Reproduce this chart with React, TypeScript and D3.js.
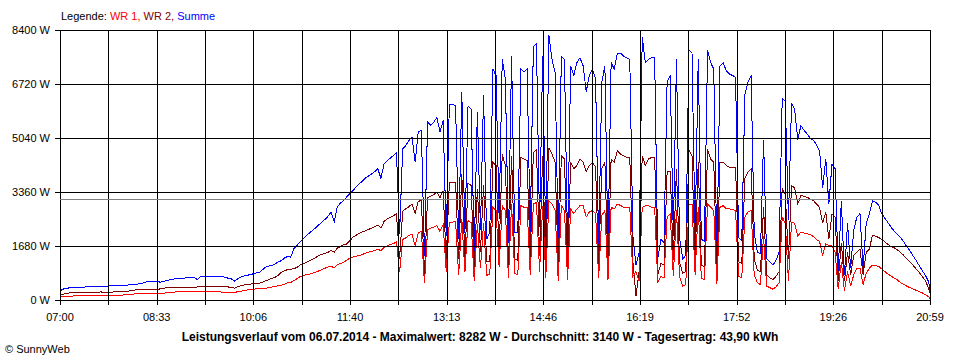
import React from 'react';
import * as d3 from 'd3';

// Leistungsverlauf 06.07.2014, Werte in W, ein Messwert alle 3 Minuten ab 07:00
const wr1 = [
  125, 125, 130, 135, 140, 145, 150, 150, 155, 155,
  155, 155, 155, 155, 155, 160, 160, 160, 160, 165,
  170, 175, 185, 195, 205, 205, 205, 205, 205, 205,
  205, 205, 215, 225, 240, 260, 262, 265, 270, 275,
  278, 280, 280, 280, 280, 280, 280, 280, 280, 280,
  280, 275, 260, 245, 240, 240, 240, 280, 290, 310,
  330, 340, 350, 365, 375, 385, 385, 400, 420, 435,
  460, 480, 500, 550, 560, 620, 675, 740, 780, 800,
  820, 850, 880, 920, 960, 1005, 1040, 1060, 1020, 1110,
  1150, 1190, 1250, 1320, 1350, 1380, 1400, 1430, 1470, 1500,
  1530, 1555, 1590, 1555, 1650, 1700, 1740, 1770, 1820, 880,
  1900, 1950, 2020, 2060, 1700, 2100, 2150, 530, 2200, 2250,
  2280, 2330, 2150, 2350, 900, 2440, 2440, 2460, 780, 2540,
  880, 2480, 2420, 600, 2390, 1000, 2400, 780, 830, 2900,
  2800, 1050, 2950, 2800, 700, 3000, 850, 800, 2950, 2900,
  2900, 800, 3000, 3050, 900, 2950, 700, 3100, 3000, 2800,
  600, 2960, 2800, 650, 2850, 2700, 2850, 2950, 2950, 2600,
  2750, 2800, 2700, 700, 2650, 2800, 650, 2900, 2850, 3000,
  2960, 2900, 2900, 2900, 750, 900, 600, 2900, 2950, 2950,
  2900, 2900, 550, 750, 700, 2600, 2700, 750, 2800, 750,
  450, 500, 3000, 3000, 800, 2900, 700, 650, 3000, 2900,
  2800, 500, 2900, 2950, 2850, 2850, 2830, 2800, 750, 700,
  2600, 2750, 2800, 800, 550, 500, 2000, 450, 400, 350,
  420, 550, 2600, 2400, 600, 2440, 2400, 2000, 2130, 2100,
  2080, 2050, 1990, 1900, 1840, 1400, 1770, 1700, 1700, 1500,
  350, 1200, 300, 900, 450, 800, 1000, 1000, 500, 850,
  1000, 1100, 1090, 1060, 980, 900, 820, 760, 700, 640,
  560, 500, 450, 400, 360, 320, 280, 240, 180, 120, 50,
];

const wr2 = [
  190, 200, 215, 240, 245, 250, 255, 260, 260, 260,
  260, 260, 262, 265, 260, 260, 260, 265, 270, 275,
  280, 285, 295, 310, 330, 340, 340, 340, 340, 340,
  340, 345, 360, 380, 395, 400, 405, 405, 405, 405,
  405, 405, 405, 410, 420, 435, 445, 445, 445, 445,
  445, 440, 435, 435, 420, 395, 385, 430, 460, 480,
  500, 510, 520, 535, 540, 570, 620, 650, 690, 725,
  780, 880, 920, 965, 975, 985, 1030, 1100, 1140, 1180,
  1240, 1280, 1330, 1400, 1430, 1470, 1500, 1560, 1500, 1630,
  1680, 1730, 1760, 1860, 1970, 2030, 2090, 2130, 2170, 2210,
  2250, 2300, 2350, 2250, 2460, 2540, 2590, 2640, 2700, 1300,
  2780, 2850, 2920, 3000, 2700, 3080, 3120, 840, 3200, 3250,
  3300, 3370, 3200, 3420, 1300, 3680, 3680, 3680, 1300, 3940,
  1300, 3650, 3580, 900, 3480, 1500, 3600, 1200, 1200, 4300,
  4200, 1500, 4550, 4200, 1100, 4500, 1300, 1250, 4450, 4400,
  4350, 1300, 4600, 4700, 1400, 4500, 1100, 4750, 4560, 4300,
  1100, 4500, 4400, 1050, 4300, 4100, 4200, 4400, 4300, 4000,
  4200, 4300, 4150, 1100, 4100, 4300, 1000, 4400, 4300, 4650,
  4560, 4500, 4450, 4450, 1200, 150, 900, 4500, 4200, 4400,
  4450, 4450, 800, 1150, 1100, 4000, 4000, 1250, 4100, 1200,
  850, 900, 4700, 4500, 1250, 4300, 1100, 1050, 4700, 4400,
  4300, 900, 4300, 4300, 4200, 4150, 4150, 4150, 1200, 1150,
  3800, 4000, 4100, 1300, 950, 900, 2900, 800, 700, 650,
  750, 900, 3500, 3300, 1300, 3580, 3500, 3000, 3270, 3240,
  3210, 3160, 3110, 3000, 2900, 2400, 2750, 1900, 2700, 2600,
  600, 1800, 600, 1500, 800, 1400, 1500, 1600, 800, 1500,
  1600, 2030, 2000, 1960, 1900, 1830, 1740, 1680, 1640, 1580,
  1500, 1410, 1300, 1210, 1100, 990, 880, 750, 620, 400, 200,
];

const summe = [
  310, 360, 380, 395, 405, 410, 415, 420, 420, 425,
  430, 435, 440, 445, 445, 450, 455, 460, 460, 465,
  470, 475, 485, 495, 505, 515, 520, 560, 600, 600,
  600, 600, 570, 590, 620, 640, 665, 675, 690, 700,
  700, 705, 710, 715, 650, 740, 745, 740, 735, 740,
  745, 745, 745, 720, 690, 670, 600, 680, 730, 760,
  780, 810, 830, 860, 880, 960, 1040, 1070, 1090, 1140,
  1200, 1240, 1320, 1370, 1350, 1610, 1710, 1820, 1920, 2020,
  2100, 2180, 2260, 2350, 2440, 2520, 2620, 2750, 2450, 2920,
  3030, 3110, 3220, 3320, 3420, 3530, 3630, 3710, 3810, 3870,
  3940, 4010, 4100, 3800, 4250, 4350, 4430, 4510, 4600, 2080,
  4720, 4820, 4980, 5080, 4300, 5240, 5290, 1400, 5550, 5450,
  5550, 5700, 5240, 5600, 2000, 6100, 6100, 6070, 1900, 6480,
  2100, 6050, 5960, 1500, 5860, 2200, 6380, 1900, 2130, 7200,
  7000, 2540, 7500, 6900, 1800, 7600, 2130, 2100, 7200, 7100,
  7200, 2100, 7900, 8000, 2300, 7600, 1800, 8250, 7500, 7100,
  1700, 7600, 7500, 1700, 7300, 7000, 7400, 7550, 7300, 6500,
  7000, 7200, 6900, 1700, 6800, 7300, 1600, 7400, 7200, 7700,
  7700, 7600, 7550, 7500, 2000, 1100, 1500, 8200, 7400, 7500,
  7550, 7550, 1300, 1900, 1800, 6800, 7000, 2000, 7500, 1950,
  1300, 1400, 7800, 7700, 2000, 7500, 1900, 1850, 7800, 7400,
  7200, 1400, 7300, 7400, 7150, 7050, 7000, 6950, 1950, 1850,
  6400, 6800, 7000, 2100, 1500, 1450, 5000, 1300, 1200, 1100,
  1250, 1500, 6300, 6200, 2500, 6150, 5950, 5000, 5440, 5300,
  5180, 5050, 4990, 4850, 4660, 3500, 4400, 3000, 4250, 4100,
  900, 3100, 800, 2400, 1000, 2200, 2600, 2700, 1000, 2400,
  2700, 3100, 3060, 2960, 2700, 2560, 2420, 2280, 2160, 2060,
  1960, 1840, 1680, 1560, 1400, 1250, 1090, 930, 790, 600, 250,
];

const timeLabels = ['07:00', '08:33', '10:06', '11:40', '13:13', '14:46', '16:19', '17:52', '19:26', '20:59'];
const yTicks = [0, 1680, 3360, 5040, 6720, 8400];
const durchschnitt = 3140;
const titel = 'Leistungsverlauf vom 06.07.2014 - Maximalwert: 8282 W - Durchschnitt: 3140 W - Tagesertrag: 43,90 kWh';

const FONT = '"Liberation Sans", Arial, sans-serif';
const TOTAL_MIN = 839;

export default function App() {
  const xScale = d3.scaleLinear().domain([0, TOTAL_MIN]).range([60, 930]);
  const yScale = d3.scaleLinear().domain([0, 8400]).range([300, 30]);
  const px = (v: number) => Math.round(v) + 0.5;

  const minutes = wr1.map((_, i) => Math.min(i * 3, TOTAL_MIN));

  const line = d3
    .line<number>()
    .x((_, i) => xScale(minutes[i]) + 0.5)
    .y((d) => yScale(d) + 0.5)
    .curve(d3.curveLinear);

  const gridX = d3.range(0, 19).map((k) => (k * TOTAL_MIN) / 18);

  const series = [
    { name: 'Summe', values: summe, color: '#0000ff' },
    { name: 'WR 2', values: wr2, color: '#800000' },
    { name: 'WR 1', values: wr1, color: '#ff0000' },
  ];

  return (
    <svg
      width={960}
      height={360}
      style={{ position: 'absolute', left: 0, top: 0, background: '#fff' }}
      fontFamily={FONT}
    >
      <rect x={0} y={0} width={960} height={360} fill="#fff" />

      <text x={61} y={20} fontSize={11}>
        <tspan fill="#000">Legende: </tspan>
        <tspan fill="#ff0000">WR 1, </tspan>
        <tspan fill="#800000">WR 2, </tspan>
        <tspan fill="#0000ff">Summe</tspan>
      </text>

      {series.map((s) => (
        <path
          key={s.name}
          d={line(s.values) || ''}
          fill="none"
          stroke={s.color}
          strokeWidth={1}
          shapeRendering="crispEdges"
        />
      ))}

      <g stroke="#000" strokeWidth={1} shapeRendering="crispEdges">
        {gridX.map((t) => (
          <line key={t} x1={px(xScale(t))} x2={px(xScale(t))} y1={px(30)} y2={305} />
        ))}
        {yTicks.map((v) => (
          <line key={v} x1={55} x2={px(930) + 0.5} y1={px(yScale(v))} y2={px(yScale(v))} />
        ))}
      </g>

      <line
        x1={60}
        x2={930}
        y1={px(yScale(durchschnitt))}
        y2={px(yScale(durchschnitt))}
        stroke="#808080"
        strokeWidth={1}
        shapeRendering="crispEdges"
      />

      {yTicks.map((v) => (
        <text key={v} x={50} y={yScale(v) + 4} fontSize={11} textAnchor="end" fill="#000">
          {`${v} W`}
        </text>
      ))}

      {timeLabels.map((lab, k) => (
        <text key={lab} x={xScale((k * 2 * TOTAL_MIN) / 18)} y={321} fontSize={11} textAnchor="middle" fill="#000">
          {lab}
        </text>
      ))}

      <text x={480} y={341} fontSize={12} fontWeight="bold" textAnchor="middle" fill="#000">
        {titel}
      </text>

      <text x={5} y={353} fontSize={11} fill="#000">
        © SunnyWeb
      </text>
    </svg>
  );
}
